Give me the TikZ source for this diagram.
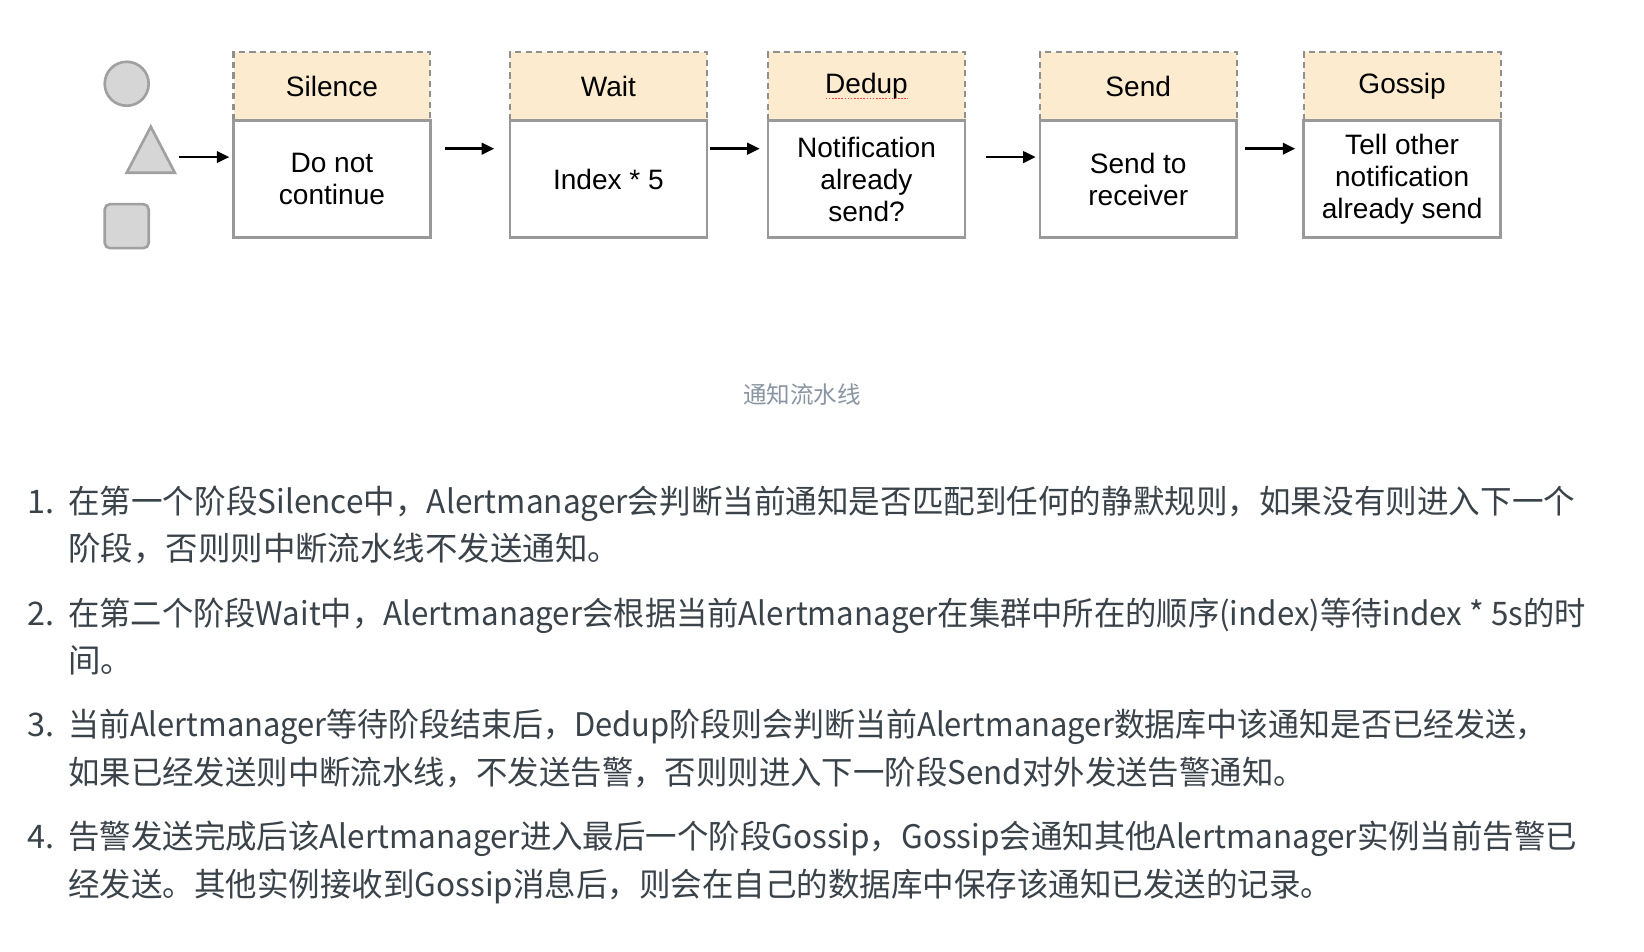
\documentclass[tikz,border=0pt]{standalone}
\usepackage{fontspec}
\setmainfont{Liberation Sans}
\newfontfamily\cjk{Noto Sans CJK SC}
\usetikzlibrary{positioning,arrows.meta}
\usepackage{xcolor,graphicx}

\definecolor{headfill}{HTML}{FDEBD0}
\definecolor{headline}{HTML}{8F8F8F}
\definecolor{bodyline}{HTML}{999999}
\definecolor{tokenfill}{HTML}{D6D6D6}
\definecolor{tokenline}{HTML}{A0A0A0}
\definecolor{listtext}{HTML}{3A424A}
\definecolor{captext}{HTML}{8A95A3}

\newcommand{\stagefont}{\fontsize{26.8}{30.5}\selectfont}
\newcommand{\listfont}{\cjk\fontsize{31}{45}\selectfont}
\newcommand{\capfont}{\cjk\fontsize{22.5}{27}\selectfont}
\newcommand{\fitline}[2]{\resizebox{#1}{\height}{#2}}

\tikzset{
	stagehead/.style={draw=headline, fill=headfill, line width=2pt, dash pattern=on 6pt off 4pt,
		minimum width=188pt, minimum height=65pt, outer sep=0pt, font=\stagefont},
	stagebody/.style={draw=bodyline, fill=white, line width=2.5pt, minimum width=188pt,
		minimum height=112pt, outer sep=0pt, align=center, font=\stagefont},
	flow/.style={line width=2.5pt, -{Triangle[length=12pt,width=11pt]}},
	token/.style={draw=tokenline, fill=tokenfill, line width=2.5pt},
	listline/.style={anchor=base west, inner sep=0pt, text=listtext, font=\listfont},
}

\begin{document}
\begin{tikzpicture}[x=1pt,y=-1pt]

		\fill[white] (0,0) rectangle (1570,909);
		\useasboundingbox (0,0) rectangle (1570,909);

		% alert shapes
		\draw[token] (121,80) circle (21);
		\draw[token] (144,121) -- (167,165) -- (121,165) -- cycle;
		\coordinate (tri) at (167,150);
		\draw[token, rounded corners=5pt] (100,195) rectangle (142,237);

		% stages
		\node (silhead) at (317,82.5) [stagehead] {Silence};
		\node (silbody) [stagebody, below=0pt of silhead] {Do not\\continue};

		\node (waithead) at (581,82.5) [stagehead] {Wait};
		\node (waitbody) [stagebody, below=0pt of waithead] {Index * 5};

		\node (deduphead) at (827.5,82.5) [stagehead] {Dedup};
		\node (dedupbody) [stagebody, below=0pt of deduphead] {Notification\\already\\send?};
		\draw[red!75, line width=1pt, dash pattern=on 1.5pt off 1.5pt] ([xshift=-39pt,yshift=-12pt]deduphead.center) -- ++(79,0);

		\node (sendhead) at (1087,82.5) [stagehead] {Send};
		\node (sendbody) [stagebody, below=0pt of sendhead] {Send to\\receiver};

		\node (goshead) at (1339,82.5) [stagehead] {Gossip};
		\node (gosbody) [stagebody, below=0pt of goshead] {Tell other\\notification\\already send};

		% pipeline arrows
		\draw[flow, shorten <=4pt, shorten >=4pt] (tri) -- ([yshift=21pt]silbody.west);
		\draw[flow, shorten <=14pt, shorten >=15pt] ([yshift=29pt]silbody.east) -- ([yshift=29pt]waitbody.west);
		\draw[flow, shorten <=3pt, shorten >=8pt] ([yshift=29pt]waitbody.east) -- ([yshift=29pt]dedupbody.west);
		\draw[flow, shorten <=20pt, shorten >=4pt] ([yshift=21pt]dedupbody.east) -- ([yshift=21pt]sendbody.west);
		\draw[flow, shorten <=8pt, shorten >=8pt] ([yshift=29pt]sendbody.east) -- ([yshift=29pt]gosbody.west);

		\node (caption) at (766,385) [anchor=base, text=captext, font=\capfont] {通知流水线};

		% explanation list
		\node (num1) at (26,490) [listline] {1.};
		\node (item1a) at (65,490) [listline] {\fitline{1439pt}{在第一个阶段Silence中，Alertmanager会判断当前通知是否匹配到任何的静默规则，如果没有则进入下一个}};
		\node (item1b) at (65,535) [listline] {阶段，否则则中断流水线不发送通知。};

		\node (num2) at (26,597) [listline] {2.};
		\node (item2a) at (65,597) [listline] {\fitline{1449pt}{在第二个阶段Wait中，Alertmanager会根据当前Alertmanager在集群中所在的顺序(index)等待index * 5s的时}};
		\node (item2b) at (65,642) [listline] {间。};

		\node (num3) at (26,703) [listline] {3.};
		\node (item3a) at (65,703) [listline] {\fitline{1412pt}{当前Alertmanager等待阶段结束后，Dedup阶段则会判断当前Alertmanager数据库中该通知是否已经发送，}};
		\node (item3b) at (65,749) [listline] {\fitline{1181pt}{如果已经发送则中断流水线，不发送告警，否则则进入下一阶段Send对外发送告警通知。}};

		\node (num4) at (26,810) [listline] {4.};
		\node (item4a) at (65,810) [listline] {\fitline{1441pt}{告警发送完成后该Alertmanager进入最后一个阶段Gossip，Gossip会通知其他Alertmanager实例当前告警已}};
		\node (item4b) at (65,856) [listline] {\fitline{1207pt}{经发送。其他实例接收到Gossip消息后，则会在自己的数据库中保存该通知已发送的记录。}};

\end{tikzpicture}
\end{document}
